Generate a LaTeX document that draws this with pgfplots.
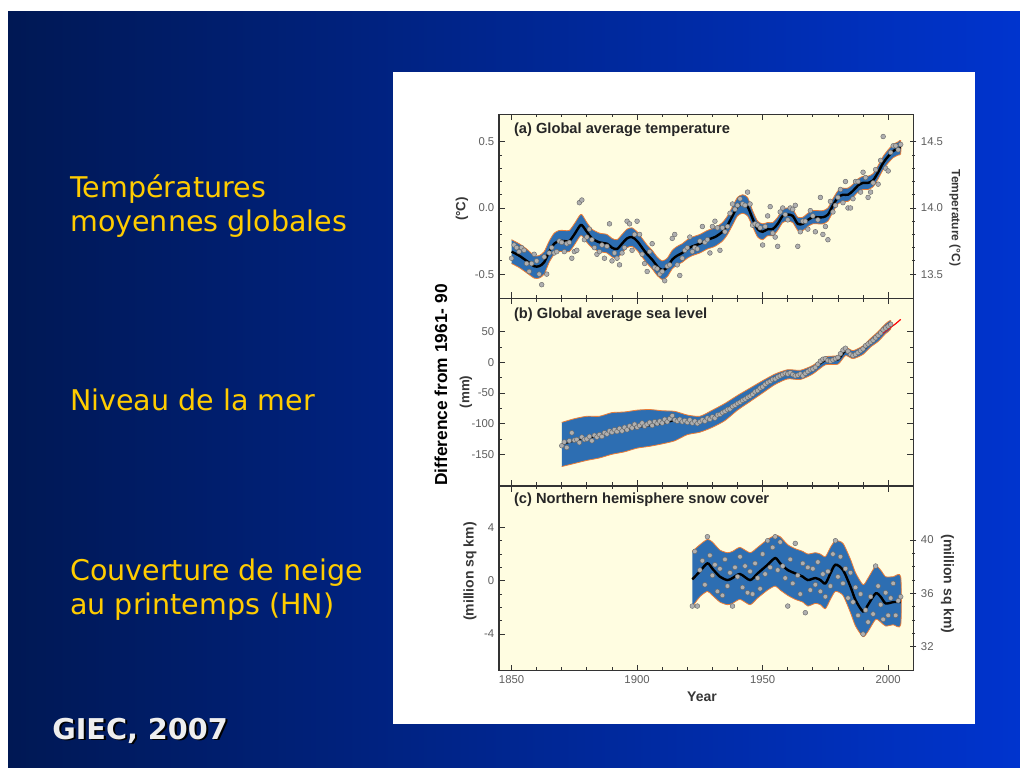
\documentclass[border=0pt]{standalone}
\usepackage{fontspec}
\setmainfont{Liberation Sans}
\newfontfamily\slidefont{DejaVu Sans}
\usepackage{pgfplots}
\pgfplotsset{compat=1.18}
\usepackage{pgfplotstable}

\definecolor{bgL}{RGB}{0,24,84}
\definecolor{bgR}{RGB}{0,52,206}
\definecolor{cream}{RGB}{255,253,225}
\definecolor{band}{RGB}{45,110,178}
\definecolor{bandedge}{RGB}{235,125,55}
\definecolor{ptfill}{RGB}{175,175,175}
\definecolor{ptdraw}{RGB}{100,100,100}
\definecolor{lbl}{RGB}{95,95,95}
\definecolor{lbldark}{RGB}{55,55,55}
\definecolor{slideyellow}{RGB}{255,204,0}
\definecolor{giec}{RGB}{238,238,238}

% (a) smoothed curve
\pgfplotstableread{
year mid
1850 -0.33
1853 -0.36
1856 -0.40
1859 -0.44
1861 -0.44
1863 -0.41
1865 -0.33
1867 -0.27
1869 -0.25
1871 -0.25
1873 -0.25
1875 -0.20
1877 -0.14
1878 -0.13
1880 -0.18
1882 -0.23
1885 -0.26
1888 -0.27
1890 -0.30
1892 -0.31
1894 -0.27
1896 -0.23
1898 -0.22
1900 -0.25
1902 -0.30
1904 -0.35
1906 -0.39
1908 -0.44
1910 -0.47
1912 -0.45
1914 -0.39
1916 -0.36
1918 -0.34
1920 -0.31
1922 -0.29
1925 -0.27
1928 -0.24
1931 -0.22
1934 -0.18
1936 -0.13
1938 -0.06
1940 0.01
1942 0.03
1944 0.01
1946 -0.08
1948 -0.16
1950 -0.18
1952 -0.16
1954 -0.16
1956 -0.12
1958 -0.06
1960 -0.05
1962 -0.06
1964 -0.12
1966 -0.12
1968 -0.09
1970 -0.07
1972 -0.07
1974 -0.07
1976 -0.05
1978 0.02
1980 0.08
1982 0.10
1984 0.10
1986 0.13
1988 0.17
1990 0.19
1992 0.19
1994 0.21
1996 0.27
1998 0.34
2000 0.39
2002 0.43
2004 0.45
2005 0.46
}\tempmid

% (a) uncertainty band outline: upper edge forward, lower edge back
\pgfplotstableread{
year y
1850 -0.24
1853 -0.27
1856 -0.31
1859 -0.36
1861 -0.36
1863 -0.33
1865 -0.25
1867 -0.19
1869 -0.17
1871 -0.17
1873 -0.17
1875 -0.12
1877 -0.06
1878 -0.05
1880 -0.11
1882 -0.16
1885 -0.19
1888 -0.20
1890 -0.23
1892 -0.24
1894 -0.20
1896 -0.16
1898 -0.15
1900 -0.18
1902 -0.23
1904 -0.28
1906 -0.32
1908 -0.37
1910 -0.40
1912 -0.38
1914 -0.32
1916 -0.29
1918 -0.27
1920 -0.24
1922 -0.22
1925 -0.20
1928 -0.17
1931 -0.15
1934 -0.11
1936 -0.06
1938 0.01
1940 0.08
1942 0.10
1944 0.08
1946 -0.02
1948 -0.10
1950 -0.12
1952 -0.11
1954 -0.11
1956 -0.07
1958 -0.01
1960 0.00
1962 -0.01
1964 -0.07
1966 -0.07
1968 -0.04
1970 -0.02
1972 -0.02
1974 -0.02
1976 0.00
1978 0.07
1980 0.13
1982 0.15
1984 0.15
1986 0.18
1988 0.22
1990 0.24
1992 0.24
1994 0.26
1996 0.32
1998 0.39
2000 0.44
2002 0.48
2004 0.50
2005 0.51
2005 0.41
2004 0.40
2002 0.38
2000 0.34
1998 0.29
1996 0.22
1994 0.16
1992 0.14
1990 0.14
1988 0.12
1986 0.08
1984 0.05
1982 0.05
1980 0.03
1978 -0.03
1976 -0.10
1974 -0.12
1972 -0.12
1970 -0.12
1968 -0.14
1966 -0.17
1964 -0.17
1962 -0.11
1960 -0.10
1958 -0.11
1956 -0.17
1954 -0.21
1952 -0.21
1950 -0.24
1948 -0.22
1946 -0.14
1944 -0.06
1942 -0.04
1940 -0.06
1938 -0.13
1936 -0.20
1934 -0.25
1931 -0.29
1928 -0.31
1925 -0.34
1922 -0.36
1920 -0.38
1918 -0.41
1916 -0.43
1914 -0.46
1912 -0.52
1910 -0.54
1908 -0.51
1906 -0.46
1904 -0.42
1902 -0.37
1900 -0.32
1898 -0.29
1896 -0.30
1894 -0.34
1892 -0.38
1890 -0.37
1888 -0.34
1885 -0.33
1882 -0.30
1880 -0.26
1878 -0.21
1877 -0.22
1875 -0.28
1873 -0.33
1871 -0.33
1869 -0.33
1867 -0.35
1865 -0.41
1863 -0.50
1861 -0.53
1859 -0.53
1856 -0.49
1853 -0.45
1850 -0.42
}\tempband

\pgfplotstableread{
year val
1850 -0.38
1851 -0.28
1852 -0.30
1853 -0.33
1854 -0.30
1855 -0.32
1856 -0.42
1857 -0.48
1858 -0.42
1859 -0.35
1860 -0.40
1861 -0.50
1862 -0.58
1863 -0.37
1864 -0.50
1865 -0.34
1866 -0.30
1867 -0.34
1868 -0.33
1869 -0.25
1870 -0.26
1871 -0.33
1872 -0.27
1873 -0.26
1874 -0.38
1875 -0.33
1876 -0.32
1877 0.04
1878 0.06
1879 -0.24
1880 -0.22
1881 -0.16
1882 -0.24
1883 -0.30
1884 -0.35
1885 -0.33
1886 -0.28
1887 -0.38
1888 -0.29
1889 -0.12
1890 -0.40
1891 -0.34
1892 -0.38
1893 -0.43
1894 -0.34
1895 -0.30
1896 -0.10
1897 -0.12
1898 -0.32
1899 -0.20
1900 -0.10
1901 -0.20
1902 -0.35
1903 -0.42
1904 -0.48
1905 -0.33
1906 -0.27
1907 -0.45
1908 -0.46
1909 -0.50
1910 -0.48
1911 -0.55
1912 -0.44
1913 -0.43
1914 -0.23
1915 -0.20
1916 -0.43
1917 -0.51
1918 -0.38
1919 -0.32
1920 -0.30
1921 -0.22
1922 -0.33
1923 -0.30
1924 -0.31
1925 -0.25
1926 -0.14
1927 -0.26
1928 -0.24
1929 -0.34
1930 -0.14
1931 -0.10
1932 -0.15
1933 -0.32
1934 -0.15
1935 -0.18
1936 -0.14
1937 -0.04
1938 0.03
1939 -0.01
1940 0.02
1941 0.07
1942 0.03
1943 0.02
1944 0.12
1945 0.03
1946 -0.13
1947 -0.12
1948 -0.13
1949 -0.15
1950 -0.28
1951 -0.14
1952 -0.06
1953 0.01
1954 -0.19
1955 -0.22
1956 -0.29
1957 -0.03
1958 0.00
1959 -0.05
1960 -0.09
1961 0.00
1962 -0.01
1963 0.02
1964 -0.29
1965 -0.18
1966 -0.10
1967 -0.10
1968 -0.16
1969 -0.02
1970 -0.06
1971 -0.18
1972 -0.09
1973 0.08
1974 -0.20
1975 -0.14
1976 -0.24
1977 0.05
1978 -0.03
1979 0.02
1980 0.08
1981 0.14
1982 0.04
1983 0.20
1984 0.00
1985 0.00
1986 0.07
1987 0.20
1988 0.20
1989 0.12
1990 0.27
1991 0.23
1992 0.08
1993 0.12
1994 0.19
1995 0.29
1996 0.18
1997 0.36
1998 0.54
1999 0.30
2000 0.28
2001 0.42
2002 0.47
2003 0.47
2004 0.44
2005 0.48
}\temppts

% (b) smoothed curve
\pgfplotstableread{
year mid
1870 -134
1875 -128
1880 -124
1885 -120
1890 -114
1895 -110
1900 -106
1905 -103
1910 -100
1915 -95
1920 -96
1925 -97
1930 -90
1935 -80
1940 -66
1945 -53
1950 -40
1955 -27
1960 -19
1965 -20
1970 -12
1975 3
1980 4
1983 18
1986 12
1990 20
1993 32
1996 42
1999 55
2001 62
}\seamid

% (b) band outline
\pgfplotstableread{
year y
1870 -98
1875 -92
1880 -88
1885 -88
1890 -82
1895 -81
1900 -78
1905 -77
1910 -79
1915 -80
1920 -86
1925 -88
1930 -78
1935 -67
1940 -54
1945 -42
1950 -30
1955 -19
1960 -12
1965 -13
1970 -5
1975 9
1980 11
1983 24
1986 19
1990 27
1993 39
1996 50
1999 63
2001 68
2001 54
1999 47
1996 34
1993 25
1990 13
1986 6
1983 11
1980 -3
1975 -4
1970 -19
1965 -28
1960 -27
1955 -36
1950 -50
1945 -64
1940 -78
1935 -95
1930 -106
1925 -114
1920 -118
1915 -128
1910 -133
1905 -137
1900 -140
1895 -146
1890 -150
1885 -156
1880 -160
1875 -165
1870 -170
}\seaband

\pgfplotstableread{
year val
1870 -136
1871 -130
1872 -139
1873 -128
1874 -115
1875 -127
1876 -126
1877 -131
1878 -122
1879 -126
1880 -125
1881 -121
1882 -128
1883 -119
1884 -122
1885 -118
1886 -121
1887 -115
1888 -117
1889 -112
1890 -114
1891 -110
1892 -113
1893 -108
1894 -112
1895 -106
1896 -110
1897 -104
1898 -107
1899 -101
1900 -106
1901 -103
1902 -99
1903 -104
1904 -101
1905 -98
1906 -103
1907 -97
1908 -100
1909 -96
1910 -99
1911 -93
1912 -97
1913 -92
1914 -87
1915 -94
1916 -96
1917 -93
1918 -97
1919 -95
1920 -98
1921 -94
1922 -99
1923 -96
1924 -100
1925 -97
1926 -94
1927 -96
1928 -91
1929 -93
1930 -89
1931 -91
1932 -86
1933 -85
1934 -82
1935 -80
1936 -77
1937 -76
1938 -72
1939 -70
1940 -67
1941 -65
1942 -62
1943 -60
1944 -57
1945 -55
1946 -52
1947 -48
1948 -46
1949 -42
1950 -40
1951 -36
1952 -33
1953 -31
1954 -28
1955 -27
1956 -24
1957 -22
1958 -20
1959 -18
1960 -19
1961 -17
1962 -20
1963 -22
1964 -21
1965 -19
1966 -22
1967 -18
1968 -15
1969 -12
1970 -11
1971 -8
1972 -3
1973 2
1974 5
1975 6
1976 3
1977 2
1978 4
1979 6
1980 8
1981 14
1982 20
1983 23
1984 18
1985 13
1986 11
1987 13
1988 16
1989 19
1990 22
1991 27
1992 30
1993 33
1994 36
1995 40
1996 44
1997 48
1998 53
1999 56
2000 59
2001 62
}\seapts

% (c) smoothed curve
\pgfplotstableread{
year mid
1922 0.10
1925 0.70
1928 1.30
1930 0.90
1933 0.30
1936 0.05
1938 0.20
1941 0.50
1945 0.05
1948 0.55
1952 1.20
1955 1.70
1957 1.30
1960 0.80
1963 0.55
1966 0.30
1968 0.05
1971 0.20
1973 0.05
1975 -0.20
1977 0.55
1979 1.20
1982 0.80
1985 -0.45
1987 -1.45
1990 -2.30
1992 -1.80
1995 -0.95
1997 -1.20
1999 -1.70
2002 -1.60
2005 -1.60
}\snowmid

% (c) band outline
\pgfplotstableread{
year y
1922 2.20
1925 2.70
1928 3.10
1930 2.90
1933 2.30
1936 2.10
1938 2.20
1941 2.50
1945 2.10
1948 2.50
1952 3.10
1955 3.40
1957 3.30
1960 2.70
1963 2.40
1966 2.20
1968 2.00
1971 2.10
1973 2.00
1975 1.80
1977 2.50
1979 3.00
1982 2.80
1985 1.60
1987 0.60
1990 -0.30
1992 0.20
1995 1.10
1997 0.80
1999 0.30
2002 0.30
2005 0.30
2005 -3.30
2002 -3.30
1999 -3.40
1997 -3.10
1995 -2.90
1992 -3.80
1990 -4.20
1987 -3.40
1985 -2.40
1982 -1.10
1979 -0.80
1977 -1.40
1975 -2.10
1973 -1.80
1971 -1.70
1968 -1.90
1966 -1.60
1963 -1.40
1960 -1.10
1957 -0.70
1955 -0.40
1952 -0.70
1948 -1.30
1945 -1.80
1941 -1.40
1938 -1.70
1936 -1.80
1933 -1.60
1930 -1.10
1928 -0.80
1925 -1.20
1922 -1.95
}\snowband

\pgfplotstableread{
year val
1922 -1.9
1923 2.2
1924 -1.9
1925 0.8
1926 1.5
1927 -0.3
1928 3.3
1929 1.9
1930 0.4
1931 1.2
1932 -0.8
1933 0.9
1934 -1.1
1935 1.6
1936 -0.4
1937 0.6
1938 -1.9
1939 1.0
1940 0.3
1941 1.8
1942 -0.5
1943 1.1
1944 -0.9
1945 0.7
1946 -1.0
1947 1.3
1948 0.2
1949 -0.6
1950 2.0
1951 0.5
1952 3.0
1953 1.0
1954 2.5
1955 3.3
1956 0.8
1957 2.9
1958 1.1
1959 0.2
1960 -1.9
1961 1.6
1962 -0.2
1963 2.8
1964 0.4
1965 -1.0
1966 1.3
1967 -2.4
1968 1.0
1969 -0.7
1970 0.9
1971 -0.3
1972 1.4
1973 -0.8
1974 0.5
1975 -1.2
1976 0.7
1977 -0.4
1978 2.0
1979 3.0
1980 0.3
1981 1.8
1982 -0.2
1983 0.9
1984 -1.3
1985 0.6
1986 -1.6
1987 -0.5
1988 -2.6
1989 -1.0
1990 -4.0
1991 -2.2
1992 -3.1
1993 -1.2
1994 -2.5
1995 1.1
1996 -0.4
1997 -1.8
1998 -2.9
1999 -0.9
2000 -2.6
2001 -1.3
2002 -0.2
2003 -2.6
2004 -1.5
2005 -1.2
}\snowpts

\pgfplotsset{
  panel/.style={
    scale only axis, width=310.7pt, xmin=1845, xmax=2010,
    axis line style={black!80, line width=0.8pt},
    tick style={black!80, line width=0.6pt},
    major tick length=4.5pt, minor tick length=2.5pt,
    xtick={1850,1900,1950,2000}, minor x tick num=4,
    tick label style={font=\fontsize{8.5}{10}\selectfont, text=lbl},
  },
  bg/.style={axis background/.style={fill=cream}},
  pts/.style={only marks, mark=*, mark size=1.8pt, mark options={fill=ptfill, draw=ptdraw, line width=0.3pt}},
  bandplot/.style={fill=band, draw=bandedge, line width=0.6pt, smooth, tension=0.4},
  curve/.style={black, line width=1.8pt, smooth},
}
\tikzset{ptitle/.style={anchor=west, font=\bfseries\fontsize{11}{12}\selectfont, text=black!85}}

\begin{document}
\begin{tikzpicture}
\fill[white] (0pt,0pt) rectangle (765pt,575.25pt);
\shade[left color=bgL, right color=bgR] (6pt,0pt) rectangle (765pt,566.25pt);
\fill[white] (294.75pt,32.25pt) rectangle (731.25pt,521.25pt);

% slide text
\begin{scope}[every node/.style={anchor=base west, inner sep=0pt, text=slideyellow, font=\slidefont\fontsize{21.4}{25}\selectfont}]
\node at (52.5pt,426.75pt) {Températures};
\node at (52.5pt,401.25pt) {moyennes globales};
\node at (52.5pt,267pt) {Niveau de la mer};
\node at (52.5pt,139.5pt) {Couverture de neige};
\node at (52.5pt,114pt) {au printemps (HN)};
\end{scope}
\node[anchor=base west, inner sep=0pt, text=black, font=\slidefont\bfseries\fontsize{21.5}{24}\selectfont] at (40.6pt,19.6pt) {GIEC, 2007};
\node[anchor=base west, inner sep=0pt, text=giec, font=\slidefont\bfseries\fontsize{21.5}{24}\selectfont] at (39pt,21pt) {GIEC, 2007};

% panel (a)
\begin{axis}[panel, bg, at={(374.25pt,351.5pt)}, anchor=south west, height=138.2pt,
  ymin=-0.683, ymax=0.71, ytick={-0.5,0,0.5}, yticklabels={-0.5,0.0,0.5},
  minor y tick num=4, ytick pos=left, xticklabels={}]
\addplot[bandplot] table[x=year,y=y]{\tempband};
\addplot[pts] table[x=year,y=val]{\temppts};
\addplot[curve] table[x=year,y=mid]{\tempmid};
\node[ptitle] at (rel axis cs:0.025,0.915) {(a) Global average temperature};
\end{axis}
\begin{axis}[panel, at={(374.25pt,351.5pt)}, anchor=south west, height=138.2pt,
  ymin=13.317, ymax=14.71, axis x line=none, axis y line*=right,
  ytick={13.5,14,14.5}, yticklabels={13.5,14.0,14.5}, minor y tick num=4, tick align=center]
\addplot[draw=none] coordinates {(1900,14)};
\end{axis}

% panel (b)
\begin{axis}[panel, bg, at={(374.25pt,211pt)}, anchor=south west, height=140.55pt,
  ymin=-201.2, ymax=104.5, ytick={-150,-100,-50,0,50}, yticklabels={-150,-100,-50,0,50},
  minor y tick num=1, xticklabels={}]
\addplot[bandplot] table[x=year,y=y]{\seaband};
\addplot[pts] table[x=year,y=val]{\seapts};
\addplot[curve, line width=1.2pt] table[x=year,y=mid]{\seamid};
\addplot[red, line width=0.9pt] coordinates {(1993,33) (1995,38) (1997,45) (1999,51) (2001,57) (2003,63) (2005,70)};
\node[ptitle] at (rel axis cs:0.025,0.91) {(b) Global average sea level};
\end{axis}

% panel (c)
\begin{axis}[panel, bg, at={(374.25pt,72.2pt)}, anchor=south west, height=138.5pt,
  ymin=-6.75, ymax=7.1, ytick={-4,0,4}, yticklabels={-4,0,4}, minor y tick num=3,
  ytick pos=left, xticklabels={1850,1900,1950,2000}]
\addplot[bandplot] table[x=year,y=y]{\snowband};
\addplot[pts] table[x=year,y=val]{\snowpts};
\addplot[curve] table[x=year,y=mid]{\snowmid};
\node[ptitle] at (rel axis cs:0.025,0.924) {(c) Northern hemisphere snow cover};
\end{axis}
\begin{axis}[panel, at={(374.25pt,72.2pt)}, anchor=south west, height=138.5pt,
  ymin=30.2, ymax=44.05, axis x line=none, axis y line*=right,
  ytick={32,36,40}, yticklabels={32,36,40}, minor y tick num=3, tick align=center]
\addplot[draw=none] coordinates {(1950,36)};
\end{axis}

% axis labels
\node[rotate=90, font=\bfseries\fontsize{13}{15}\selectfont, text=black] at (330.75pt,286.5pt) {Difference from 1961- 90};
\node[rotate=90, font=\bfseries\fontsize{10}{12}\selectfont, text=lbldark] at (346.5pt,418.5pt) {(°C)};
\node[rotate=90, font=\bfseries\fontsize{10}{12}\selectfont, text=lbldark] at (349.5pt,281.25pt) {(mm)};
\node[rotate=90, font=\bfseries\fontsize{10.5}{12}\selectfont, text=lbldark] at (352.5pt,146.6pt) {(million sq km)};
\node[rotate=-90, font=\bfseries\fontsize{9}{11}\selectfont, text=lbldark] at (716.25pt,411.75pt) {Temperature (°C)};
\node[rotate=-90, font=\bfseries\fontsize{10.5}{12}\selectfont, text=lbldark] at (710.6pt,137.25pt) {(million sq km)};
\node[font=\bfseries\fontsize{10.5}{12}\selectfont, text=lbldark] at (526.5pt,52.5pt) {Year};
\end{tikzpicture}
\end{document}
